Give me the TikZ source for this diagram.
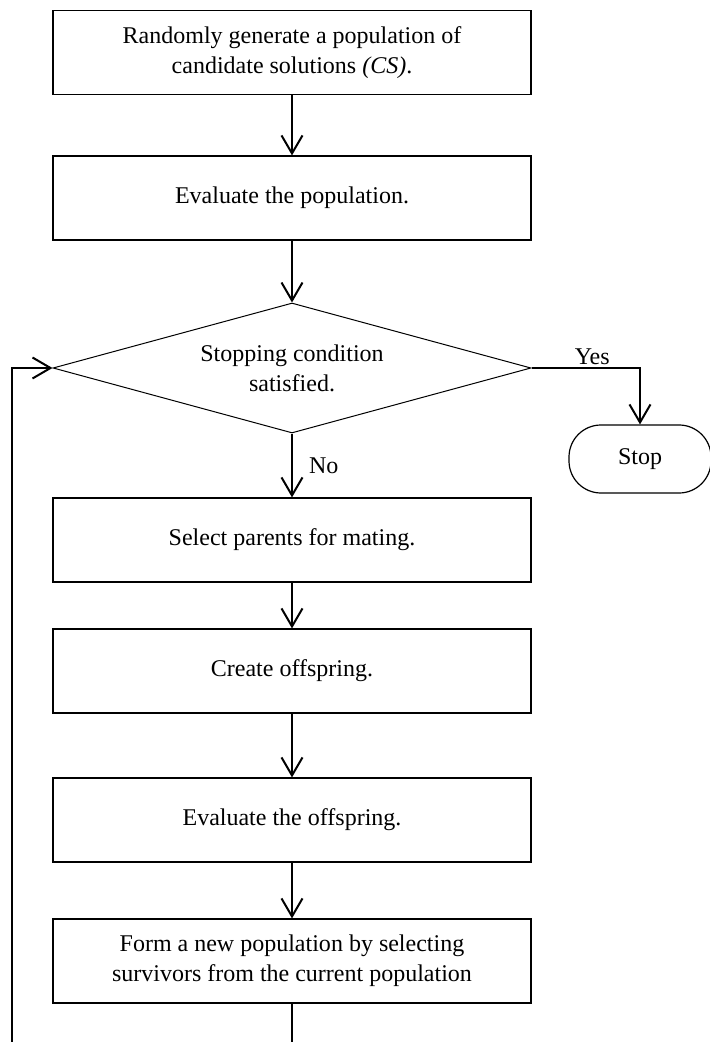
\documentclass[tikz,border=0pt]{standalone}
\usepackage{fontspec}
\setmainfont{Liberation Serif}
\usetikzlibrary{positioning}
\usetikzlibrary{arrows.meta,shapes}
\tikzstyle{stepbox}=[rectangle,draw,line width=0.6pt,minimum width=239pt,minimum height=42pt,align=center,inner sep=0pt]
\tikzstyle{decision}=[diamond,draw,line width=0.5pt,aspect=3.68,minimum width=239pt,minimum height=65pt,align=center,inner sep=0pt]
\tikzstyle{terminal}=[rectangle,rounded corners=16pt,draw,line width=0.6pt,minimum width=71pt,minimum height=34pt]
\tikzstyle{flow} = [draw,line width=1pt,-{Straight Barb[length=9pt,width=10.5pt]}]
\tikzstyle{weight} = [inner sep=1pt]

\begin{document}
\begin{tikzpicture}[x=0.5pt,y=-0.5pt,font=\fontsize{12}{15}\selectfont]
    \useasboundingbox (0,0) rectangle (710,1042);
    \clip (0,0) rectangle (710,1042);

    \foreach \pos/\name/\label in {{(292,52.5)/init/{Randomly generate a population of\\candidate solutions \textit{(CS)}.}}, {(292,198)/evalpop/{Evaluate the population.}}, {(292,540)/select/{Select parents for mating.}}, {(292,671)/create/{Create offspring.}}, {(292,820)/evaloff/{Evaluate the offspring.}}, {(292,961)/survive/{Form a new population by selecting\\survivors from the current population}}}
        \node[stepbox] (\name) at \pos {\label};

    \node[decision] (stopcond) at (292,368) {Stopping condition\\satisfied.};
    \node[terminal] (stop) at (640,459) {Stop};
    \coordinate (back) at (12,1070);

    \foreach \source/ \dest in {init/evalpop, evalpop/stopcond, select/create, create/evaloff, evaloff/survive}
        \path[flow] (\source) -- (\dest);

    \path[flow] (stopcond) -- node[weight,right,xshift=7pt] {No} (select);
    \path[flow] (stopcond.east) -| node[weight,above,pos=0.28] {Yes} (stop.north);
    \path[flow] (survive.south) |- (back) |- (stopcond.west);
\end{tikzpicture}
\end{document}
